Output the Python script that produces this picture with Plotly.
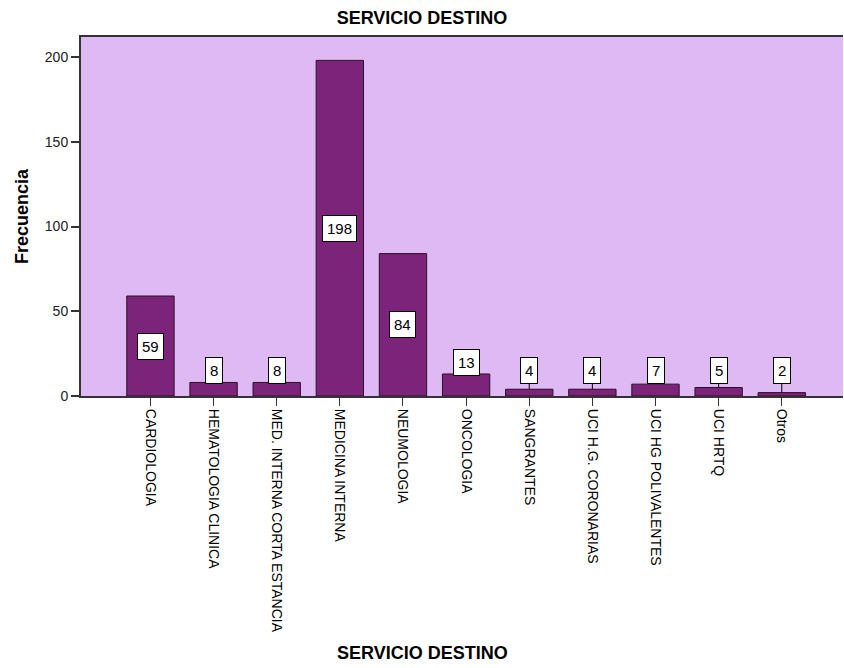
import plotly.graph_objects as go

categories = ["CARDIOLOGIA", "HEMATOLOGIA CLINICA", "MED. INTERNA CORTA ESTANCIA",
              "MEDICINA INTERNA", "NEUMOLOGIA", "ONCOLOGIA", "SANGRANTES",
              "UCI H.G. CORONARIAS", "UCI HG POLIVALENTES", "UCI HRTQ", "Otros"]
values = [59, 8, 8, 198, 84, 13, 4, 4, 7, 5, 2]
y_ticks = [0, 50, 100, 150, 200]

FONT = "Arial, Liberation Sans, sans-serif"
BAR = "#7b2479"
BG = "#dfb9f3"

xs = list(range(len(categories)))

fig = go.Figure()
fig.add_trace(go.Bar(
    x=xs, y=values, width=0.75,
    marker=dict(color=BAR, line=dict(color="#2a1028", width=1)),
    hoverinfo="skip",
))

annotations = []
for i, v in enumerate(values):
    if v > 30:
        annotations.append(dict(
            x=i, y=v / 2, xref="x", yref="y", text=str(v), showarrow=False,
            bgcolor="white", bordercolor="black", borderwidth=1, borderpad=4,
            font=dict(family=FONT, size=15, color="black")))
    else:
        ly = max(15, v + 7)
        annotations.append(dict(
            x=i, y=v, xref="x", yref="y", text=str(v), showarrow=True,
            arrowhead=0, arrowwidth=1, arrowcolor="black",
            ax=i, ay=ly, axref="x", ayref="y", standoff=0,
            bgcolor="white", bordercolor="black", borderwidth=1, borderpad=4,
            font=dict(family=FONT, size=15, color="black")))

annotations.append(dict(
    x=(422 - 81) / 762, y=(396 - 653) / 359, xref="paper", yref="paper",
    text="<b>SERVICIO DESTINO</b>", showarrow=False, xanchor="center", yanchor="middle",
    font=dict(family=FONT, size=18, color="black")))

fig.update_layout(
    width=844, height=668,
    margin=dict(l=81, r=1, t=37, b=272),
    paper_bgcolor="white", plot_bgcolor=BG,
    showlegend=False,
    title=dict(text="<b>SERVICIO DESTINO</b>", x=0.5, xref="container", xanchor="center",
               y=1 - 18 / 668, yref="container", yanchor="middle",
               font=dict(family=FONT, size=18, color="black")),
    annotations=annotations,
    xaxis=dict(
        tickmode="array", tickvals=xs, ticktext=categories, tickangle=90,
        range=[-1.1, 10.97], showgrid=False, zeroline=False,
        showline=True, linecolor="#333333", linewidth=2, mirror=True,
        ticks="outside", ticklen=8, tickcolor="#333333", tickwidth=1,
        tickfont=dict(family=FONT, size=14, color="black"),
    ),
    yaxis=dict(
        tickmode="array", tickvals=y_ticks, range=[0, 211.8],
        showgrid=False, zeroline=False,
        showline=True, linecolor="#333333", linewidth=2,
        ticks="outside", ticklen=8, tickcolor="#333333", tickwidth=2,
        tickfont=dict(family=FONT, size=14, color="#222222"),
        title=dict(text="<b>Frecuencia</b>", standoff=12,
                   font=dict(family=FONT, size=18, color="black")),
    ),
)

fig.write_html("out.html")
